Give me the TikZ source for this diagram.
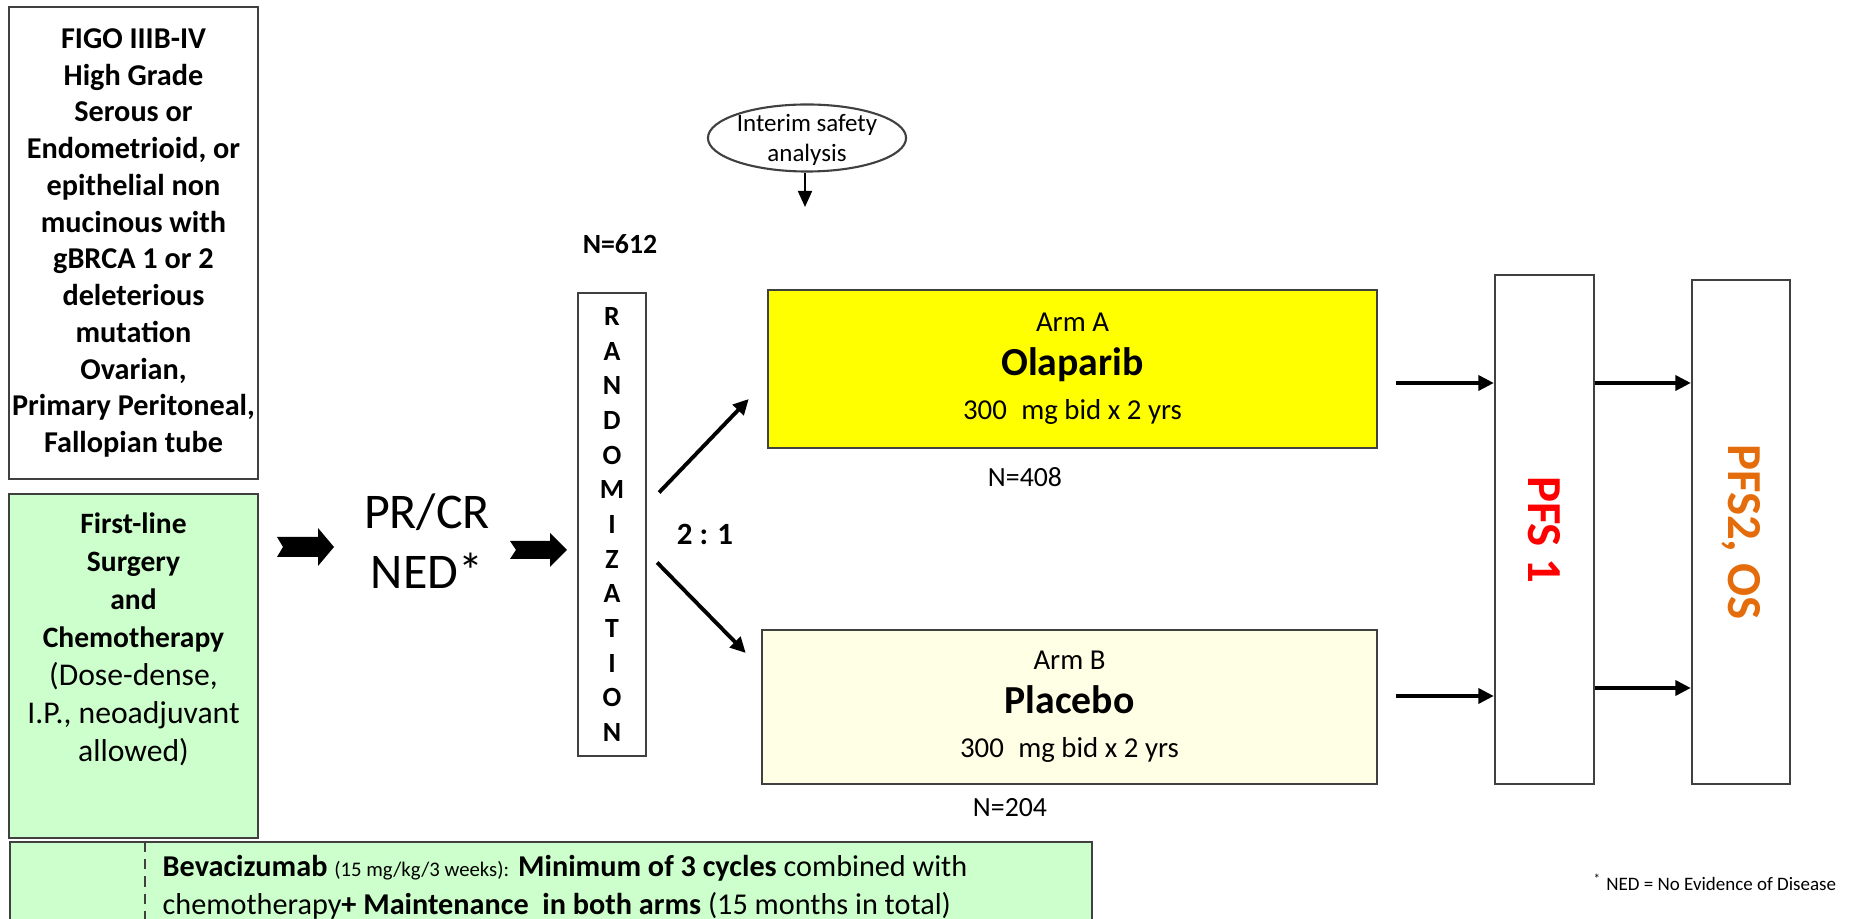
\documentclass[tikz,border=0pt]{standalone}
\usepackage{fontspec}
\setmainfont{Carlito}
\usepackage{graphicx}
\usepackage{tikz}
\usetikzlibrary{arrows.meta}
\usetikzlibrary{shapes.geometric}
\usetikzlibrary{positioning}

\definecolor{armgreen}{HTML}{CCFFCC}
\definecolor{armyellow}{HTML}{FFFF00}
\definecolor{armcream}{HTML}{FFFFE5}
\definecolor{pfsorange}{HTML}{E46C0A}
\definecolor{boxline}{HTML}{404040}

\newcommand{\fsz}[2]{\fontsize{#1pt}{#2pt}\selectfont}

\begin{document}
\begin{tikzpicture}[x=0.01cm,y=-0.01cm,
  box/.style={draw=boxline,line width=0.6pt,inner sep=0pt},
  arr/.style={line width=1.1pt,-{Triangle[length=4.4pt,width=4.2pt]}},
  thinarr/.style={line width=0.6pt,-{Triangle[length=4.6pt,width=4pt]}}]
  \clip (0,0) rectangle (1853,919);

  % left column
  \node[box,minimum width=2.49cm,minimum height=4.72cm,align=center,
    font=\fsz{8.6}{10.45}\bfseries] (figo) at (133.5,243)
    {FIGO IIIB-IV\\High Grade\\Serous or\\Endometrioid, or\\epithelial non\\mucinous with\\gBRCA 1 or 2\\deleterious\\mutation\\Ovarian,\\Primary Peritoneal,\\Fallopian tube};
  \node[box,fill=armgreen,minimum width=2.49cm,minimum height=3.44cm] (surg) at (133.5,666) {};
  \node[below=0.08cm of surg.north,align=center,font=\fsz{8.4}{10.8}] (surgtxt)
    {\bfseries First-line\\\bfseries Surgery\\\bfseries and\\\bfseries Chemotherapy\\
     \mdseries\fsz{9}{10.8}(Dose-dense,\\\mdseries\fsz{9}{10.8}I.P., neoadjuvant\\\mdseries\fsz{9}{10.8}allowed)};
  \node[box,fill=armgreen,minimum width=10.81cm,minimum height=1cm,anchor=north west] (bev) at (9,841) {};
  \draw[boxline,line width=0.6pt,dash pattern=on 3pt off 2pt] (bev.north west) ++(136,0) -- ++(0,90);
  \node[anchor=west,align=left,inner sep=0pt,font=\fsz{8.6}{10.8}] (bevtxt) at (162,887)
    {{\bfseries Bevacizumab} {\fsz{5.9}{10.8}(15 mg/kg/3 weeks):} {\bfseries Minimum of 3 cycles} combined with\\
     chemotherapy{\bfseries + Maintenance\ \ in both arms} (15 months in total)};

  % response and randomisation
  \node[align=center,font=\fsz{14.2}{17}] (prcr) at (427,541) {PR/CR\\NED*};
  \coordinate (ba1) at (277,547);
  \fill (ba1) ++(0,-10) -- ++(41,0) -- ++(0,-9) -- ++(16,19) -- ++(-16,19)
    -- ++(0,-9) -- ++(-41,0) -- ++(6,-10) -- cycle;
  \coordinate (ba2) at (510,550);
  \fill (ba2) ++(0,-9) -- ++(40,0) -- ++(0,-8) -- ++(17,17) -- ++(-17,17)
    -- ++(0,-8) -- ++(-40,0) -- ++(6,-9) -- cycle;
  \node[box,minimum width=0.68cm,minimum height=4.63cm,align=center,
    font=\fsz{7.9}{9.85}\bfseries] (rand) at (612,524.5)
    {R\\A\\N\\D\\O\\M\\I\\Z\\A\\T\\I\\O\\N};
  \node[font=\fsz{7.9}{9.5}\bfseries] (n612) at (620,244) {N=612};
  \node[font=\fsz{8.8}{10}\bfseries] (ratio) at (705,534) {2 : 1};

  \node[draw=boxline,line width=0.6pt,ellipse,minimum width=1.98cm,
    minimum height=0.67cm,inner sep=0pt] (interim) at (807,138) {};
  \node[align=center,font=\fsz{7.1}{8.5},inner sep=0pt] (interimtxt) at (807,140)
    {Interim safety\\analysis};
  \coordinate (safe) at (805,207);
  \draw[thinarr] (interim.south -| safe) -- (safe);

  % arms
  \node[box,fill=armyellow,minimum width=6.09cm,minimum height=1.58cm,align=center,
    font=\fsz{8.2}{12.5}] (armA) at (1072.5,369)
    {Arm A\\{\fsz{11.3}{13}\bfseries Olaparib}\\300\enspace mg bid x 2 yrs};
  \node[font=\fsz{7.9}{9.5}] (n408) at (1025,477) {N=408};
  \node[box,fill=armcream,minimum width=6.15cm,minimum height=1.54cm,align=center,
    font=\fsz{8.2}{12.5}] (armB) at (1069.5,707)
    {Arm B\\{\fsz{11.3}{13}\bfseries Placebo}\\300\enspace mg bid x 2 yrs};
  \node[font=\fsz{7.9}{9.5}] (n204) at (1010,808) {N=204};

  \draw[arr] ([shift={(12,-32)}]rand.east) -- ([shift={(-18,30)}]armA.west);
  \draw[arr] ([shift={(10,38)}]rand.east) -- ([shift={(-15,-54)}]armB.west);

  % endpoints
  \node[box,minimum width=0.99cm,minimum height=5.09cm,text=red,
    font=\fsz{13.9}{16}\bfseries] (pfs1) at (1544.5,529.5) {\rotatebox{-90}{PFS 1}};
  \node[box,minimum width=0.98cm,minimum height=5.04cm,text=pfsorange,
    font=\fsz{13.9}{16}\bfseries] (pfs2) at (1741,532) {\rotatebox{-90}{PFS2, OS}};

  \draw[arr] ([shift={(18,14)}]armA.east) coordinate (a1) -- (a1 -| pfs1.west);
  \draw[arr] ([shift={(18,-11)}]armB.east) coordinate (b1) -- (b1 -| pfs1.west);
  \draw[arr] (a1 -| pfs1.east) -- (a1 -| pfs2.west);
  \draw[arr] ([shift={(0,158.5)}]pfs1.east) coordinate (c1) -- (c1 -| pfs2.west);

  \node[anchor=west,inner sep=0pt,font=\fsz{5.4}{6.5}] (nedfoot) at (1593,882)
    {\textsuperscript{*} NED = No Evidence of Disease};
\end{tikzpicture}
\end{document}
